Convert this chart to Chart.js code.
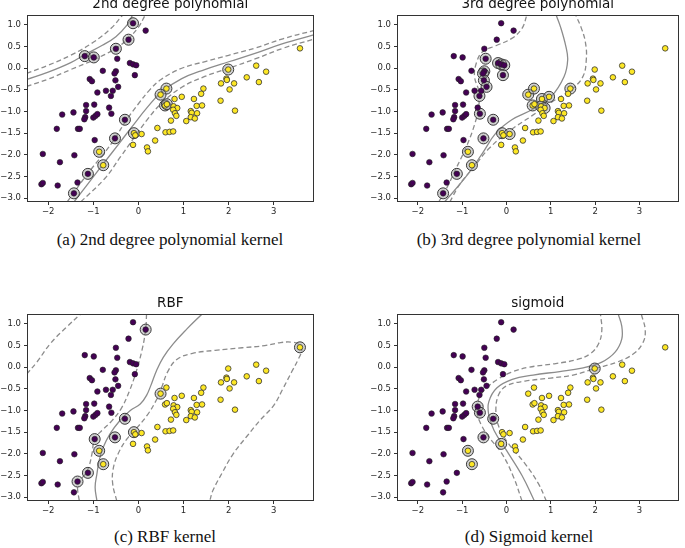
<!DOCTYPE html>
<html>
<head>
<meta charset="utf-8">
<script src="https://cdn.jsdelivr.net/npm/chart.js@4"></script>
<style>
html, body { margin: 0; padding: 0; background: #fff; overflow: hidden; }
#wrap { position: relative; width: 685px; height: 548px; }
canvas { position: absolute; }
.cap { position: absolute; width: 340px; text-align: center; font-family: "Liberation Serif", serif; font-size: 17px; line-height: 18px; color: #111; }
</style>
</head>
<body>
<div id="wrap">
  <canvas id="c1" width="320" height="225" style="left:0;top:-3px"></canvas>
  <canvas id="c2" width="315" height="225" style="left:370px;top:-3px"></canvas>
  <canvas id="c3" width="320" height="225" style="left:0;top:296px"></canvas>
  <canvas id="c4" width="315" height="225" style="left:370px;top:296px"></canvas>
  <div class="cap" style="left:0;top:231px">(a) 2nd degree polynomial kernel</div>
  <div class="cap" style="left:359px;top:231px">(b) 3rd degree polynomial kernel</div>
  <div class="cap" style="left:-5px;top:528px">(c) RBF kernel</div>
  <div class="cap" style="left:359px;top:528px">(d) Sigmoid kernel</div>
</div>
<script>
// same data set in all four panels
const purpleX = [-0.12, 0.16, -1.19, -0.99, -0.50, -0.22, -0.47, -0.19, -0.12, -0.05,
  -0.79, -0.50, -0.53, -0.08, -1.08, -1.03, -0.51, -0.45, -0.57, -0.72,
  -0.91, -0.61, -1.16, -0.98, -0.65, -1.69, -1.44, -1.16, -1.18, -1.20,
  -1.00, -0.95, -0.91, -0.60, -0.30, -1.81, -1.34, -1.30, -0.97, -0.52,
  -2.12, -1.42, -1.74, -1.12, -1.79, -2.15, -2.12, -1.35, -1.43];
const purpleY = [1.04, 0.87, 0.28, 0.25, 0.45, 0.66, 0.22, 0.12, 0.09, 0.07,
  -0.06, -0.07, -0.12, -0.16, -0.25, -0.30, -0.28, -0.43, -0.52, -0.52,
  -0.56, -0.64, -0.85, -0.84, -0.91, -1.07, -1.02, -0.99, -1.13, -1.18,
  -1.14, -1.10, -1.06, -1.05, -1.19, -1.40, -1.40, -1.40, -1.66, -1.62,
  -1.98, -2.01, -2.17, -2.44, -2.71, -2.68, -2.65, -2.64, -2.89];

const yellowX = [3.58, 1.99, 2.61, 2.83, 2.40, 1.95, 1.96, 1.83, 2.12, 2.67,
  2.02, 1.82, 2.14, 1.44, 1.39, 1.23, 0.96, 0.80, 0.62, 0.49,
  1.41, 1.29, 1.16, 1.18, 1.30, 1.16, 1.25, 1.06, 0.78, 0.86,
  0.77, 0.81, 0.84, 0.72, 0.59, 0.63, 0.42, 0.60, 0.69, 0.77,
  -0.10, -0.07, 0.07, -0.12, 0.19, 0.21, 0.37, -0.87, -0.78];
const yellowY = [0.46, -0.03, 0.06, -0.08, -0.21, -0.24, -0.27, -0.35, -0.35, -0.32,
  -0.49, -0.75, -0.98, -0.47, -0.59, -0.71, -0.66, -0.71, -0.47, -0.61,
  -0.86, -0.87, -0.99, -1.03, -1.04, -1.13, -1.16, -1.22, -0.88, -0.92,
  -0.96, -1.04, -1.10, -1.21, -0.86, -0.83, -1.38, -1.48, -1.47, -1.46,
  -1.50, -1.55, -1.52, -1.77, -1.83, -1.92, -1.67, -1.93, -2.24];

const xTicks = [-2, -1, 0, 1, 2, 3];
const yTicks = [1.0, 0.5, 0.0, -0.5, -1.0, -1.5, -2.0, -2.5, -3.0];

// support vectors per kernel
const svPoly2 = [[-0.12, 1.04], [-1.19, 0.28], [-0.99, 0.25], [-0.50, 0.45], [-0.22, 0.66],
  [1.99, -0.03], [0.62, -0.47], [0.49, -0.61], [0.59, -0.86], [0.63, -0.83],
  [-0.30, -1.19], [-0.10, -1.50], [-0.52, -1.62], [-0.87, -1.93], [-0.78, -2.24],
  [-1.12, -2.44], [-1.43, -2.89]];
const svPoly3 = [[-0.47, 0.22], [-0.19, 0.12], [-0.12, 0.09], [-0.05, 0.07], [-0.08, -0.16],
  [-0.50, -0.07], [-0.53, -0.12], [-0.51, -0.28], [-0.45, -0.43], [-0.61, -0.64],
  [-0.60, -1.05], [-0.30, -1.19], [-0.52, -1.62], [-0.87, -1.93], [-0.78, -2.24],
  [-1.12, -2.44], [-1.43, -2.89], [-0.10, -1.50], [0.07, -1.52], [0.49, -0.61],
  [0.62, -0.47], [0.59, -0.86], [0.80, -0.71], [0.78, -0.88], [0.86, -0.92],
  [0.96, -0.66], [1.44, -0.47]];
const svRbf = [[0.16, 0.87], [3.58, 0.46], [0.49, -0.61], [-0.30, -1.19], [-0.10, -1.50],
  [-0.52, -1.62], [-0.97, -1.66], [-0.87, -1.93], [-0.78, -2.24], [-1.12, -2.44], [-1.35, -2.64]];
const svSigmoid = [[1.99, -0.03], [-0.65, -0.91], [-0.60, -1.05], [-0.30, -1.19], [-0.52, -1.62],
  [-0.12, -1.77], [-0.87, -1.93], [-0.78, -2.24]];

// decision function contours
const poly2TopDashA = [[-2.48, -0.12], [-2.0, 0.07], [-1.5, 0.30], [-1.0, 0.60], [-0.6, 0.93], [-0.35, 1.23]];
const poly2TopSolid = [[-2.48, -0.26], [-2.0, -0.09], [-1.5, 0.13], [-1.2, 0.31], [-0.8, 0.53], [-0.5, 0.73], [-0.25, 1.0], [-0.13, 1.23]];
const poly2TopDashB = [[-2.48, -0.42], [-2.0, -0.25], [-1.5, -0.03], [-1.0, 0.19], [-0.5, 0.46], [-0.23, 0.68], [0.0, 0.95], [0.15, 1.23]];
const poly2BotDashA = [[-1.58, -3.09], [-1.13, -2.44], [-0.75, -1.95], [-0.52, -1.62], [-0.28, -1.22], [0.0, -0.82], [0.25, -0.50], [0.5, -0.26], [0.96, 0.0], [1.5, 0.16], [2.0, 0.30], [2.6, 0.47], [3.2, 0.68], [3.88, 0.87]];
const poly2BotSolid = [[-1.43, -3.09], [-0.81, -2.25], [-0.4, -1.70], [-0.15, -1.36], [0.2, -0.90], [0.51, -0.55], [0.96, -0.24], [1.47, -0.03], [2.0, 0.15], [2.6, 0.35], [3.2, 0.57], [3.88, 0.77]];
const poly2BotDashB = [[-1.28, -3.09], [-0.74, -2.54], [-0.4, -2.05], [-0.08, -1.58], [0.2, -1.18], [0.51, -0.81], [0.96, -0.44], [1.47, -0.19], [2.0, 0.0], [2.6, 0.22], [3.2, 0.46], [3.88, 0.67]];

const poly3Solid = [[-1.40, -3.09], [-0.91, -2.50], [-0.54, -1.96], [-0.24, -1.50], [0.12, -1.19], [0.57, -0.96], [1.01, -0.65], [1.30, -0.19], [1.38, 0.19], [1.34, 0.50], [1.22, 0.95], [1.12, 1.23]];
const poly3DashA = [[-1.53, -3.09], [-1.35, -2.77], [-1.13, -2.30], [-0.90, -1.80], [-0.72, -1.30], [-0.63, -0.90], [-0.62, -0.55], [-0.72, -0.20], [-0.68, 0.12], [-0.54, 0.38], [-0.24, 0.52], [0.12, 0.69], [0.35, 0.92], [0.46, 1.23]];
const poly3DashB = [[-1.28, -3.09], [-1.06, -2.69], [-0.76, -2.31], [-0.39, -1.85], [0.05, -1.46], [0.57, -1.10], [1.01, -0.79], [1.45, -0.50], [1.72, -0.20], [1.80, 0.20], [1.78, 0.60], [1.68, 0.95], [1.56, 1.23]];

const rbfSolid = [[1.40, 1.22], [1.07, 0.88], [0.77, 0.54], [0.55, 0.23], [0.40, -0.08], [0.29, -0.38], [0.18, -0.65], [0.04, -0.85], [-0.18, -1.0], [-0.41, -1.23], [-0.63, -1.54], [-0.78, -1.85], [-0.87, -2.15], [-0.92, -2.46], [-0.96, -2.77], [-0.92, -3.09]];
const rbfDashA = [[0.18, 1.23], [0.16, 0.87], [0.08, 0.40], [-0.05, -0.10], [-0.2, -0.55], [-0.38, -0.95], [-0.6, -1.25], [-0.8, -1.45], [-0.97, -1.66], [-1.03, -2.0], [-1.1, -2.3], [-1.2, -2.5], [-1.33, -2.64], [-1.35, -2.8], [-1.31, -3.09]];
const rbfDashB = [[-0.48, -3.09], [-0.57, -2.70], [-0.56, -2.35], [-0.45, -2.0], [-0.25, -1.65], [-0.05, -1.42], [0.2, -1.10], [0.4, -0.75], [0.52, -0.45], [0.65, -0.10], [0.85, 0.18], [1.2, 0.32], [1.7, 0.39], [2.3, 0.45], [2.8, 0.50], [3.15, 0.57], [3.4, 0.58], [3.55, 0.53], [3.62, 0.40], [3.55, 0.20], [3.4, -0.10], [3.2, -0.50], [3.0, -0.88], [2.7, -1.22], [2.4, -1.60], [2.1, -2.0], [1.85, -2.45], [1.65, -2.85], [1.58, -3.09]];
const rbfDashC = [[-2.48, -0.16], [-2.25, 0.12], [-1.95, 0.55], [-1.6, 0.92], [-1.28, 1.23]];

const sigSolid = [[0.63, -3.09], [0.35, -2.50], [0.0, -1.92], [-0.28, -1.46], [-0.40, -1.10], [-0.40, -0.80], [-0.22, -0.48], [0.13, -0.28], [0.6, -0.18], [1.2, -0.10], [1.7, -0.02], [2.15, 0.12], [2.45, 0.35], [2.6, 0.65], [2.6, 0.95], [2.52, 1.23]];
const sigDashA = [[0.35, -3.09], [0.16, -2.54], [-0.1, -2.0], [-0.39, -1.62], [-0.58, -1.31], [-0.67, -1.0], [-0.61, -0.69], [-0.45, -0.48], [-0.2, -0.28], [0.1, -0.12], [0.5, 0.0], [1.08, 0.08], [1.6, 0.18], [1.9, 0.32], [2.08, 0.55], [2.15, 0.85], [2.12, 1.23]];
const sigDashB = [[0.9, -3.09], [0.72, -2.69], [0.42, -2.23], [0.05, -1.77], [-0.17, -1.38], [-0.24, -1.0], [-0.17, -0.62], [0.02, -0.42], [0.42, -0.32], [1.0, -0.25], [1.5, -0.18], [2.0, -0.03], [2.5, 0.12], [2.85, 0.30], [3.07, 0.55], [3.13, 0.85], [3.04, 1.23]];

const frame = {
  id: 'frame',
  afterDraw(chart) {
    const a = chart.chartArea, ctx = chart.ctx;
    ctx.save();
    ctx.strokeStyle = '#333';
    ctx.lineWidth = 1;
    ctx.strokeRect(Math.round(a.left) + 0.5, Math.round(a.top) + 0.5,
      Math.round(a.right - a.left) - 1, Math.round(a.bottom - a.top) - 1);
    ctx.restore();
  }
};

const toPts = (xs, ys) => xs.map((x, i) => ({ x: x, y: ys[i] }));
const pairs = arr => arr.map(p => ({ x: p[0], y: p[1] }));
const minusFmt = (v, d) => (v < 0 ? '\u2212' : '') + Math.abs(v).toFixed(d);

function curve(c, dashed) {
  return {
    type: 'line', data: pairs(c), borderColor: '#8c8c8c', borderWidth: 1.3,
    borderDash: dashed ? [5, 3] : [], pointRadius: 0, tension: 0.4, fill: false
  };
}

function makePanel(id, title, sv, solids, dashes, padRight) {
  const datasets = [
    { data: toPts(purpleX, purpleY), pointRadius: 2.8, backgroundColor: '#440154', borderColor: '#222', borderWidth: 0.6 },
    { data: toPts(yellowX, yellowY), pointRadius: 2.8, backgroundColor: '#fde725', borderColor: '#333', borderWidth: 0.8 },
    { data: pairs(sv), pointRadius: 5.5, backgroundColor: 'rgba(150,150,150,0.45)', borderColor: '#3a3a3a', borderWidth: 1 }
  ];
  solids.forEach(c => datasets.push(curve(c, false)));
  dashes.forEach(c => datasets.push(curve(c, true)));

  new Chart(document.getElementById(id), {
    type: 'scatter',
    data: { datasets: datasets },
    options: {
      responsive: false,
      animation: false,
      layout: { padding: { left: 0, right: padRight, top: 0, bottom: 0 } },
      plugins: {
        legend: { display: false },
        tooltip: { enabled: false },
        title: {
          display: true, text: title, fullSize: false, color: '#111',
          font: { family: 'DejaVu Sans', size: 13.5, weight: 'normal', lineHeight: '15px' },
          padding: { top: 0, bottom: 3 }
        }
      },
      scales: {
        x: {
          type: 'linear', min: -2.47, max: 3.88,
          afterBuildTicks: axis => { axis.ticks = xTicks.map(v => ({ value: v })); },
          afterFit: axis => { axis.height = 20; },
          ticks: { font: { family: 'DejaVu Sans', size: 8.5 }, color: '#262626', padding: 2, maxRotation: 0,
            callback: v => minusFmt(v, 0) },
          grid: { drawOnChartArea: false, drawTicks: true, tickLength: 3, color: '#333' },
          border: { display: false }
        },
        y: {
          type: 'linear', min: -3.09, max: 1.23,
          afterBuildTicks: axis => { axis.ticks = yTicks.map(v => ({ value: v })); },
          afterFit: axis => { axis.width = 27; },
          ticks: { font: { family: 'DejaVu Sans', size: 8.5 }, color: '#262626', padding: 3,
            callback: v => minusFmt(v, 1) },
          grid: { drawOnChartArea: false, drawTicks: true, tickLength: 3, color: '#333' },
          border: { display: false }
        }
      }
    },
    plugins: [frame]
  });
}

makePanel('c1', '2nd degree polynomial', svPoly2, [poly2TopSolid, poly2BotSolid], [poly2TopDashA, poly2TopDashB, poly2BotDashA, poly2BotDashB], 6);
makePanel('c2', '3rd degree polynomial', svPoly3, [poly3Solid], [poly3DashA, poly3DashB], 1);
makePanel('c3', 'RBF', svRbf, [rbfSolid], [rbfDashA, rbfDashB, rbfDashC], 6);
makePanel('c4', 'sigmoid', svSigmoid, [sigSolid], [sigDashA, sigDashB], 1);
</script>
</body>
</html>
